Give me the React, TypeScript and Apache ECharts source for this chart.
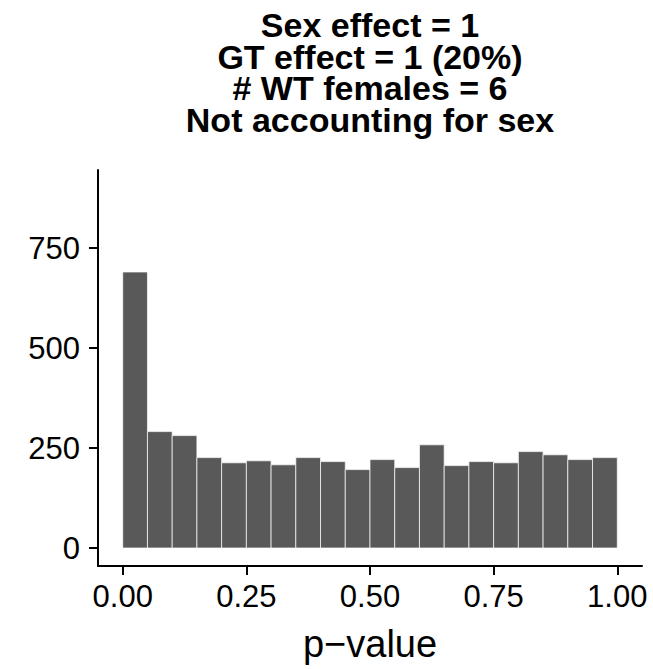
import React, { useEffect, useRef } from "react";
import * as echarts from "echarts";

const titleLines = [
  "Sex effect = 1",
  "GT effect = 1 (20%)",
  "# WT females = 6",
  "Not accounting for sex",
];
const binStarts = [0, 0.05, 0.1, 0.15, 0.2, 0.25, 0.3, 0.35, 0.4, 0.45, 0.5, 0.55, 0.6, 0.65, 0.7, 0.75, 0.8, 0.85, 0.9, 0.95];
const binWidth = 0.05;
const counts = [690, 291, 281, 226, 213, 218, 208, 226, 216, 196, 221, 201, 258, 206, 216, 213, 241, 233, 221, 226];
const xTicks = [0, 0.25, 0.5, 0.75, 1];
const yTicks = [0, 250, 500, 750];
const xAxisTitle = "p\u2212value";

const FONT = "'Liberation Sans', Arial, Helvetica, sans-serif";

export default function App() {
  const ref = useRef<HTMLDivElement>(null);
  useEffect(() => {
    if (!ref.current) return;
    const chart = echarts.init(ref.current, null, { renderer: "svg" });
    const data = binStarts.map((s, i) => [s, s + binWidth, counts[i]]);
    chart.setOption({
      animation: false,
      backgroundColor: "#ffffff",
      textStyle: { fontFamily: FONT },
      graphic: [
        {
          type: "text",
          x: 370,
          y: 9,
          style: {
            text: titleLines.join("\n"),
            font: `bold 34px ${FONT}`,
            fill: "#000",
            align: "center",
            verticalAlign: "top",
            lineHeight: 31.7,
          },
        },
      ],
      grid: { left: 98, right: 11, top: 170, bottom: 103, containLabel: false },
      xAxis: {
        type: "value",
        min: -0.05,
        max: 1.05,
        splitLine: { show: false },
        axisLine: { show: true, onZero: false, lineStyle: { color: "#000", width: 2 } },
        axisTick: { show: true, length: 9, lineStyle: { color: "#000", width: 2 }, customValues: xTicks },
        axisLabel: {
          customValues: xTicks,
          formatter: (v: number) => v.toFixed(2),
          fontSize: 31,
          color: "#000",
          fontFamily: FONT,
          margin: 15,
        },
        name: xAxisTitle,
        nameLocation: "middle",
        nameGap: 59,
        nameTextStyle: { fontSize: 38, color: "#000", fontFamily: FONT },
      },
      yAxis: {
        type: "value",
        min: -45,
        max: 945,
        splitLine: { show: false },
        axisLine: { show: true, onZero: false, lineStyle: { color: "#000", width: 2 } },
        axisTick: { show: true, length: 9, lineStyle: { color: "#000", width: 2 }, customValues: yTicks },
        axisLabel: {
          customValues: yTicks,
          fontSize: 31,
          color: "#000",
          fontFamily: FONT,
          margin: 18,
        },
      },
      series: [
        {
          type: "custom",
          data,
          encode: { x: [0, 1], y: 2 },
          renderItem: (params: any, api: any) => {
            const p0 = api.coord([api.value(0), api.value(2)]);
            const p1 = api.coord([api.value(1), 0]);
            return {
              type: "rect",
              shape: { x: p0[0], y: p0[1], width: p1[0] - p0[0], height: p1[1] - p0[1] },
              style: { fill: "#595959", stroke: "#ffffff", lineWidth: 0.7 },
            };
          },
        },
      ],
    });
    return () => chart.dispose();
  }, []);
  return (
    <div
      ref={ref}
      style={{ position: "absolute", left: 0, top: 0, width: 653, height: 669 }}
    />
  );
}
